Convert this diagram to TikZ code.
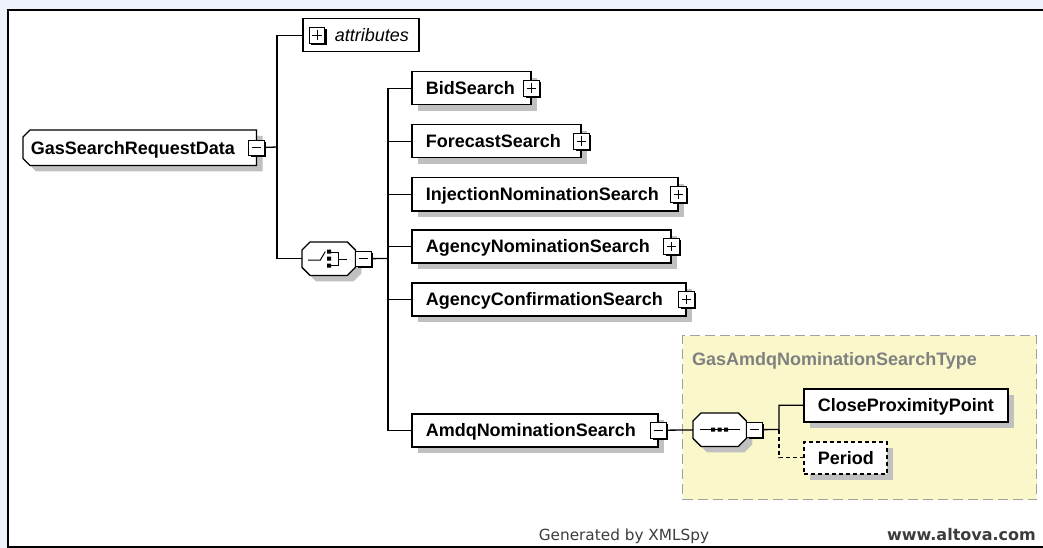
\documentclass[tikz,border=0pt]{standalone}
\usepackage{fontspec}
\setmainfont{Liberation Sans}
\newfontfamily\footfont{DejaVu Sans}
\usetikzlibrary{positioning, shadows}

\definecolor{pageblue}{RGB}{238,242,251}
\definecolor{typeyellow}{RGB}{250,248,202}
\definecolor{typegray}{RGB}{128,128,128}
\definecolor{dashgray}{RGB}{160,160,160}
\definecolor{shadowgray}{RGB}{192,192,192}
\definecolor{footgray}{RGB}{60,60,60}

\pgfdeclarelayer{bottom}
\pgfdeclarelayer{back}
\pgfsetlayers{bottom,back,main}

\newcommand\elemfont{\fontsize{18}{20}\selectfont\bfseries}

\tikzset{
  conn/.style={line width=1.3pt},
  box/.style={draw, line width=1.5pt, fill=white, inner sep=0pt, minimum height=33pt,
    text height=13pt, text depth=0pt, align=left, anchor=north west,
    execute at begin node={\hspace*{#1}}},
  box/.default=14pt,
  elem/.style={box=#1, font=\elemfont,
    drop shadow={shadow xshift=6pt, shadow yshift=-6pt, fill=shadowgray, opacity=1}},
  elem/.default=14pt,
  compositor/.style={inner sep=0pt, minimum width=53pt, minimum height=33pt, anchor=north west},
  octo/.style={draw, line width=1.3pt, fill=white,
    drop shadow={shadow xshift=6pt, shadow yshift=-6pt, fill=shadowgray, opacity=1}},
  minusbox/.style={draw, line width=0.9pt, fill=white, minimum size=15.5pt, inner sep=0pt,
    drop shadow={shadow xshift=1.8pt, shadow yshift=-1.8pt, fill=black, opacity=1},
    path picture={\draw[line width=0.9pt] ([xshift=3pt]path picture bounding box.west)
      -- ([xshift=-3pt]path picture bounding box.east);}},
  plusbox/.style={minusbox,
    path picture={\draw[line width=0.9pt] ([xshift=3pt]path picture bounding box.west)
      -- ([xshift=-3pt]path picture bounding box.east)
      ([yshift=3pt]path picture bounding box.south) -- ([yshift=-3pt]path picture bounding box.north);}},
  typebox/.style={draw=dashgray, line width=1.3pt, dash pattern=on 10pt off 5pt,
    fill=typeyellow, inner sep=0pt, anchor=north west},
  typelabel/.style={font=\elemfont, text=typegray, inner sep=0pt, anchor=base west},
  footlbl/.style={font=\footfont\fontsize{15.3}{18}\selectfont, text=footgray, inner sep=0pt}
}

\begin{document}
\begin{tikzpicture}[x=1pt, y=-1pt]
\useasboundingbox (0,0) rectangle (1043,548);
\clip (0,0) rectangle (1043,548);

% root element and attributes
\node[box=7pt, draw=none, fill=none, font=\elemfont, text width=232pt, minimum height=34pt]
  (root) at (23,130) {GasSearchRequestData};
\node[minusbox] (rootm) at (root.east) {};
\node[box=32pt, text width=116pt, font=\fontsize{18}{20}\selectfont\itshape] (attr) at (302,18) {attributes};
\node[plusbox] (attrp) at ([xshift=15pt]attr.west) {};

% choice compositor
\node[compositor] (choice) at (302,242) {};
\node[minusbox, anchor=west] (choicem) at (choice.east) {};
\begin{scope}[shift={(choice.center)}, line width=1pt]
  \draw (-20.5,1.5) -- (-8.5,1.5) -- (-3.5,-7);
  \fill (-1.5,-9) rectangle ++(4,4) (-1.5,-2) rectangle ++(4,4) (-1.5,5) rectangle ++(4,4);
  \draw (2.5,-6) -| (9.5,7) -- (2.5,7) (9.5,0.5) -- (18.5,0.5);
\end{scope}

% children
\node[elem, text width=119pt] (bid) at (411,71) {BidSearch};
\node[elem, text width=169pt] (fore) at (411,124) {ForecastSearch};
\node[elem, text width=266pt] (inj) at (411,177) {InjectionNominationSearch};
\node[elem, text width=259pt] (agnom) at (411,229) {AgencyNominationSearch};
\node[elem, text width=274pt] (agconf) at (411,282) {AgencyConfirmationSearch};
\node[elem, text width=246pt] (amdq) at (411,413) {AmdqNominationSearch};
\foreach \n in {bid,fore,inj,agnom,agconf}
  \node[plusbox] (\n plus) at (\n.east) {};
\node[minusbox] (amdqm) at (amdq.east) {};

% complex type region and sequence compositor
\begin{pgfonlayer}{bottom}
  \fill[pageblue] (0,0) rectangle (1043,548);
  \draw[line width=2pt, fill=white] (7.5,10) rectangle (1060,547);
  \node[typebox, minimum width=354pt, minimum height=164pt] (amdqtype) at (682,335) {};
  \node[typelabel] (amdqtypelbl) at (692,365) {GasAmdqNominationSearchType};
\end{pgfonlayer}
\node[compositor] (seq) at (693,413) {};
\node[minusbox, anchor=west] (seqm) at (seq.east) {};
\begin{scope}[shift={(seq.center)}]
  \draw[line width=1pt] (-20,0) -- (20,0);
  \fill (-8.5,-2) rectangle ++(4,4) (-2,-2) rectangle ++(4,4) (4.5,-2) rectangle ++(4,4);
\end{scope}
\node[elem, text width=204pt] (cpp) at (803,388) {CloseProximityPoint};
\node[elem, text width=83pt, minimum height=32pt, dash pattern=on 4pt off 3pt] (period) at (803,441) {Period};

% octagon outlines behind the nodes
\begin{pgfonlayer}{back}
  \path[octo] ([xshift=7pt]root.north west) -- (root.north east) -- (root.south east)
    -- ([xshift=7pt]root.south west) -- ([yshift=7pt]root.south west)
    -- ([yshift=-7pt]root.north west) -- cycle;
  \foreach \n in {choice,seq}
    \path[octo] ([xshift=8pt]\n.north west) -- ([xshift=-8pt]\n.north east)
      -- ([yshift=-8pt]\n.north east) -- ([yshift=8pt]\n.south east)
      -- ([xshift=-8pt]\n.south east) -- ([xshift=8pt]\n.south west)
      -- ([yshift=8pt]\n.south west) -- ([yshift=-8pt]\n.north west) -- cycle;
\end{pgfonlayer}

% connectors
\coordinate (rootj) at (277,147);
\draw[conn] (rootm) -- (rootj);
\draw[conn] (rootj) |- (attr);
\draw[conn] (rootj) |- (choice);
\coordinate (choicej) at (388,258.5);
\draw[conn] (choicem) -- (choicej);
\foreach \n in {bid,fore,inj,agnom,agconf,amdq}
  \draw[conn] (choicej) |- (\n);
\draw[conn] (amdqm) -- (seq);
\coordinate (seqj) at (779,429.5);
\draw[conn] (seqm) -- (seqj) |- (cpp);
\draw[conn, dash pattern=on 4pt off 3pt] (seqj) |- (period);

% footer
\node[footlbl, anchor=base] (gen) at (624,540) {Generated by XMLSpy};
\node[footlbl, font=\footfont\bfseries\fontsize{16}{18}\selectfont, anchor=base east] (altova) at (1036,540) {www.altova.com};
\end{tikzpicture}
\end{document}
